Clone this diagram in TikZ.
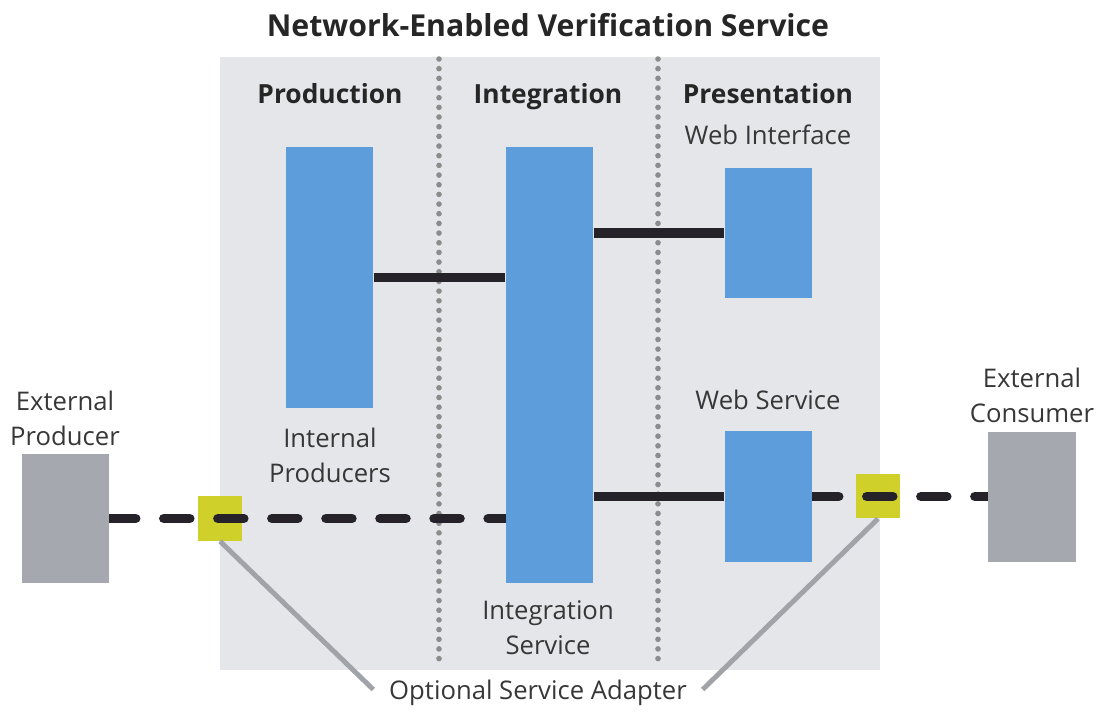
\documentclass[tikz,border=0pt]{standalone}
\usepackage{fontspec}
\setmainfont{Open Sans}
\definecolor{panelgray}{RGB}{229,230,234}
\definecolor{boxblue}{RGB}{94,157,219}
\definecolor{extgray}{RGB}{165,169,175}
\definecolor{adaptyellow}{RGB}{207,209,42}
\definecolor{linkdark}{RGB}{38,34,42}
\definecolor{leadgray}{RGB}{160,164,168}
\definecolor{textdark}{RGB}{55,55,55}
\pgfdeclarelayer{back}
\pgfdeclarelayer{mid}
\pgfsetlayers{back,mid,main}

\begin{document}
\begin{tikzpicture}[
  x=0.01cm, y=-0.01cm,
  every node/.style={text=textdark,font=\fontsize{7.3}{10}\selectfont,align=center},
  blk/.style={rectangle,fill=boxblue,minimum width=0.87cm,inner sep=0pt},
  ext/.style={rectangle,fill=extgray,minimum width=0.87cm,minimum height=1.29cm,inner sep=0pt},
  adapter/.style={rectangle,fill=adaptyellow,minimum size=0.44cm,inner sep=0pt},
  head/.style={text=black!85,font=\bfseries\fontsize{7.5}{10}\selectfont,text height=1.6ex,text depth=.4ex},
  link/.style={draw=linkdark,line width=2.7pt},
  optlink/.style={link,line cap=round,dash pattern=on 7.4pt off 7.97pt},
  divider/.style={draw=black!45,line width=1.6pt,line cap=round,dash pattern=on 0pt off 2.75pt},
  lead/.style={draw=leadgray,line width=1.4pt}
]
\useasboundingbox (0,0) rectangle (1099,711);

% service panel with its three columns
\begin{pgfonlayer}{back}
\fill[panelgray] (220,57) rectangle (880,670);
\draw[divider] (439,59) -- (439,668);
\draw[divider] (658,59) -- (658,668);
\node[adapter] (adaptL) at (220,518.5) {};
\node[adapter] (adaptR) at (878,496) {};
\end{pgfonlayer}

\node[font=\bfseries\fontsize{8.6}{10}\selectfont,text=black!85] (title) at (548,25) {Network-Enabled Verification Service};
\node[head] (hprod) at (330,92) {Production};
\node[head] (hint) at (548,92) {Integration};
\node[head] (hpres) at (768,92) {Presentation};

% blocks
\node[blk,minimum height=2.61cm] (producers) at (329.5,277.5) {};
\node[blk,minimum height=4.36cm] (integration) at (549.5,365) {};
\node[blk,minimum height=1.30cm] (webui) at (768.5,233) {};
\node[blk,minimum height=1.31cm] (websvc) at (768.5,496.5) {};
\node[ext] (extprod) at (65.5,518.5) {};
\node[ext,minimum height=1.30cm] (extcons) at (1032,497) {};

% labels
\node (lwebui) at (768,135) {Web Interface};
\node (lwebsvc) at (768,400) {Web Service};
\node (lprod) at (330,455) {Internal\\Producers};
\node (lint) at (548,628) {Integration\\Service};
\node (lextprod) at (65,418) {External\\Producer};
\node (lextcons) at (1032,395) {External\\Consumer};
\node (lopt) at (538,693) {Optional Service Adapter};

% connections
\begin{pgfonlayer}{mid}
\draw[link] (producers.east) -- (integration.west |- producers.east);
\draw[link] (integration.east |- webui.west) -- (webui.west);
\draw[link] (integration.east |- websvc.west) -- (websvc.west);
\draw[optlink] (extprod.east) -- (integration.west |- extprod.east);
\draw[optlink] (websvc.east) -- (extcons.west |- websvc.east);
\end{pgfonlayer}

% callouts to the adapters
\draw[lead] (adaptL.south) -- ([xshift=-1pt,yshift=1pt]lopt.west);
\draw[lead] (adaptR.south) -- ([xshift=1pt,yshift=1pt]lopt.east);
\end{tikzpicture}
\end{document}
